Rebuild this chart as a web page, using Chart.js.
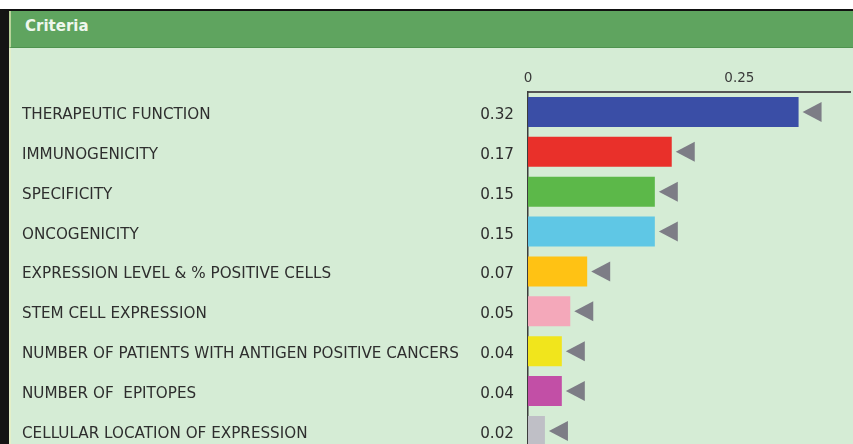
<!DOCTYPE html>
<html>
<head>
<meta charset="utf-8">
<script src="https://cdn.jsdelivr.net/npm/chart.js@4"></script>
<style>
  html, body { margin: 0; padding: 0; background: #fff; overflow: hidden; }
  #frame {
    position: absolute; top: 9px; left: 0; width: 853px; height: 480px;
    border-top: 2px solid #111; border-left: 9px solid #141414;
    box-sizing: border-box; background: #d5ecd5;
  }
  #head {
    height: 37px; background: #5fa45f; border-bottom: 1px solid #4f934f;
    border-left: 2px solid #b9d49a;
    color: #eef7ee; font: bold 15px "DejaVu Sans", sans-serif;
    padding: 6px 0 0 14px; box-sizing: border-box;
  }
  #wrap { position: relative; width: 842px; height: 426px; border-left: 2px solid #e4efc8; box-sizing: border-box; }
</style>
</head>
<body>
<div id="frame">
  <div id="head">Criteria</div>
  <div id="wrap"><canvas id="chart"></canvas></div>
</div>
<script>
const categories = [
  "THERAPEUTIC FUNCTION",
  "IMMUNOGENICITY",
  "SPECIFICITY",
  "ONCOGENICITY",
  "EXPRESSION LEVEL & % POSITIVE CELLS",
  "STEM CELL EXPRESSION",
  "NUMBER OF PATIENTS WITH ANTIGEN POSITIVE CANCERS",
  "NUMBER OF  EPITOPES",
  "CELLULAR LOCATION OF EXPRESSION"
];
const values = [0.32, 0.17, 0.15, 0.15, 0.07, 0.05, 0.04, 0.04, 0.02];
const valueLabels = values.map(v => v.toFixed(2));
const barColors = ["#3a4ea6", "#e9302a", "#5cb849", "#5fc7e5", "#ffc214", "#f4a8ba", "#f1e51c", "#c24fa6", "#bfbfc6"];
const xTicks = [0, 0.25];

const labelFont = { family: "DejaVu Sans", size: 15.2 };

// grey left-pointing markers after each bar
const markerPlugin = {
  id: "markers",
  afterDatasetsDraw(chart) {
    const ctx = chart.ctx;
    ctx.save();
    ctx.fillStyle = "#7d7d86";
    chart.getDatasetMeta(0).data.forEach(bar => {
      const tip = bar.x + 4;
      ctx.beginPath();
      ctx.moveTo(tip, bar.y);
      ctx.lineTo(tip + 19, bar.y - 10);
      ctx.lineTo(tip + 19, bar.y + 10);
      ctx.closePath();
      ctx.fill();
    });
    ctx.restore();
  }
};

new Chart(document.getElementById("chart"), {
  type: "bar",
  data: {
    labels: valueLabels,
    datasets: [{
      data: values,
      backgroundColor: barColors,
      barPercentage: 0.75,
      categoryPercentage: 1
    }]
  },
  options: {
    indexAxis: "y",
    responsive: true,
    maintainAspectRatio: false,
    animation: false,
    layout: { padding: { left: 11, right: 0, top: 0, bottom: 0 } },
    plugins: { legend: { display: false }, tooltip: { enabled: false } },
    scales: {
      x: {
        position: "top",
        min: 0,
        max: 0.382,
        afterBuildTicks: s => { s.ticks = xTicks.map(v => ({ value: v })); },
        ticks: {
          color: "#3a3a3a",
          font: { family: "DejaVu Sans", size: 13.5 },
          padding: 5,
          callback: v => (v === 0 ? "0" : String(v))
        },
        grid: { display: false, drawTicks: false },
        border: { display: true, color: "#555", width: 2 },
        afterFit: s => { s.height = 44; }
      },
      y: {
        type: "category",
        position: "left",
        weight: 0,
        ticks: { color: "#2e2e2e", font: labelFont, padding: 14, labelOffset: 3 },
        grid: { display: false, drawTicks: false },
        border: { display: true, color: "#3c3c3c", width: 1.5 },
        afterFit: s => { s.width = 54; }
      },
      y2: {
        type: "category",
        position: "left",
        weight: 1,
        labels: categories,
        ticks: { color: "#2e2e2e", font: labelFont, crossAlign: "far", labelOffset: 3 },
        grid: { display: false, drawTicks: false },
        border: { display: false },
        afterFit: s => { s.width = 452; }
      }
    }
  },
  plugins: [markerPlugin]
});
</script>
</body>
</html>
